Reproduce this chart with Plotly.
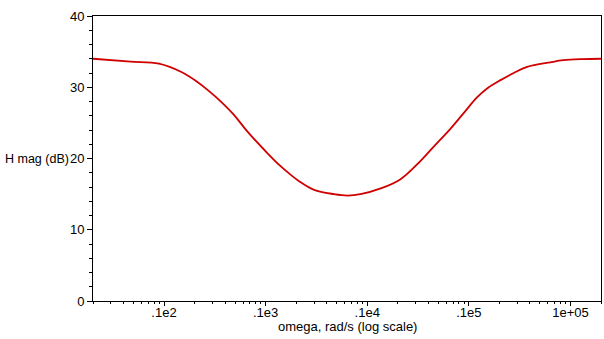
import plotly.graph_objects as go

omega = [2, 4.7, 8.9, 15, 21, 27, 35, 49, 66, 105, 136, 177, 212, 300, 470,
         640, 860, 1360, 2130, 3110, 4540, 6620, 8940, 12100, 15700, 20500,
         27700, 37500, 63500, 85300, 130000, 200000]
mag_db = [34.0, 33.6, 33.3, 32.1, 30.8, 29.6, 28.2, 26.1, 23.8, 20.7, 19.1,
          17.7, 16.85, 15.6, 15.0, 14.8, 15.0, 15.8, 17.1, 19.2, 21.7, 24.2,
          26.4, 28.6, 30.0, 31.0, 32.0, 32.85, 33.5, 33.8, 33.95, 34.0]

xtick_vals = [10, 100, 1000, 10000, 100000]
xtick_text = ['.1e2', '.1e3', '.1e4', '.1e5', '1e+05']
ytick_vals = [0, 10, 20, 30, 40]

fig = go.Figure()
fig.add_trace(go.Scatter(x=omega, y=mag_db, mode='lines',
                         line=dict(color='#d00000', width=1.8,
                                   shape='spline', smoothing=1.0),
                         hoverinfo='skip'))

font = dict(family='Liberation Sans, Arial, sans-serif', size=13, color='black')
title_font = dict(family='Liberation Sans, Arial, sans-serif', size=12.5,
                  color='black')

fig.update_layout(
    width=604, height=339,
    margin=dict(l=93, r=3, t=16, b=38),
    paper_bgcolor='white', plot_bgcolor='white',
    showlegend=False, font=font,
    xaxis=dict(type='log', range=[0.30103, 5.30103],
               tickmode='array', tickvals=xtick_vals, ticktext=xtick_text,
               ticks='outside', ticklen=4, tickwidth=1, tickcolor='black',
               ticklabelstandoff=-5,
               showline=True, linecolor='black', linewidth=1, mirror=True,
               showgrid=False, zeroline=False,
               minor=dict(ticks='outside', ticklen=2, tickcolor='black',
                          dtick='D1', showgrid=False)),
    yaxis=dict(range=[0, 40], tickmode='array', tickvals=ytick_vals,
               ticks='outside', ticklen=5, tickwidth=1, tickcolor='black',
               showline=True, linecolor='black', linewidth=1, mirror=True,
               showgrid=False, zeroline=False,
               minor=dict(ticks='outside', ticklen=3, tickcolor='black',
                          dtick=2, showgrid=False)),
    annotations=[
        dict(text='H mag (dB)', xref='paper', yref='y', x=-0.177, y=20,
             xanchor='left', yanchor='middle', showarrow=False,
             font=title_font),
        dict(text='omega, rad/s (log scale)', xref='paper', yref='paper',
             x=0.5015, y=-0.088, xanchor='center', yanchor='middle',
             showarrow=False, font=font),
    ],
)

fig.write_html('out.html',
               config={'displayModeBar': False},
               post_script="document.body.style.margin='0px';"
                           "document.body.style.overflow='hidden';")
